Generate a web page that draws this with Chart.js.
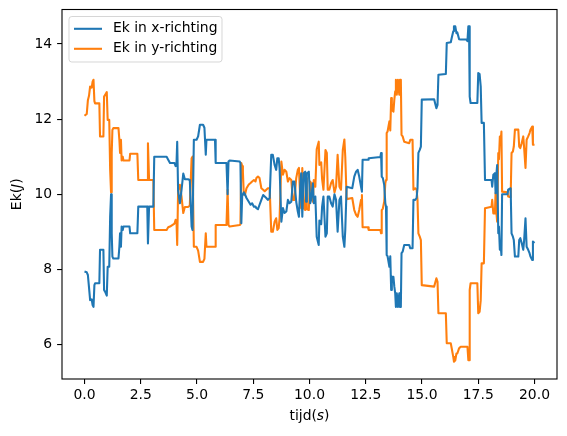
<!DOCTYPE html>
<html>
<head>
<meta charset="utf-8">
<script src="https://cdn.jsdelivr.net/npm/chart.js@4.4.0/dist/chart.umd.min.js"></script>
<style>
html,body{margin:0;padding:0;background:#fff;}
canvas{display:block;}
</style>
</head>
<body>
<canvas id="c" width="567" height="436"></canvas>
<script>
// ---- data ----
const tijd = [0.00,0.10,0.15,0.20,0.25,0.32,0.36,0.40,0.44,0.47,0.66,0.69,0.84,0.87,0.92,0.99,1.03,1.10,1.14,1.18,1.21,1.24,1.28,1.51,1.55,1.58,1.62,1.65,1.70,1.73,2.00,2.03,2.35,2.39,2.79,2.82,2.87,3.06,3.10,3.65,3.72,3.80,4.00,4.05,4.09,4.12,4.16,4.24,4.31,4.39,4.46,4.60,4.68,4.76,4.80,4.86,4.98,5.05,5.13,5.27,5.33,5.39,5.42,5.80,5.83,6.31,6.36,6.40,6.45,6.90,6.93,6.97,7.01,7.04,7.08,7.13,7.20,7.30,7.38,7.45,7.53,7.60,7.64,7.71,7.78,7.86,7.94,8.01,8.08,8.15,8.23,8.30,8.37,8.45,8.52,8.57,8.63,8.67,8.75,8.82,8.89,8.97,9.04,9.11,9.19,9.26,9.33,9.41,9.48,9.53,9.59,9.63,9.68,9.74,9.81,9.85,9.88,9.97,10.03,10.07,10.15,10.19,10.26,10.32,10.41,10.44,10.52,10.56,10.62,10.71,10.77,10.81,10.88,10.96,11.03,11.11,11.18,11.25,11.33,11.40,11.48,11.55,11.59,11.65,11.90,11.99,12.07,12.14,12.21,12.29,12.33,12.36,12.60,12.63,13.15,13.18,13.21,13.26,13.32,13.37,13.40,13.43,13.47,13.55,13.59,13.63,13.66,13.73,13.77,13.81,13.84,13.88,13.93,13.99,14.02,14.06,14.09,14.14,14.21,14.43,14.48,14.58,14.62,14.70,14.76,14.80,14.84,14.90,14.95,14.99,15.54,15.58,15.64,15.69,15.73,16.06,16.10,16.28,16.32,16.39,16.42,16.48,16.53,16.57,16.65,16.72,16.97,17.02,17.06,17.09,17.12,17.16,17.46,17.50,17.56,17.61,17.65,17.75,17.80,18.09,18.12,18.17,18.24,18.27,18.31,18.34,18.39,18.42,18.46,18.49,18.53,18.56,18.80,18.83,18.94,18.98,19.04,19.08,19.13,19.28,19.32,19.37,19.43,19.50,19.54,19.60,19.65,19.72,19.78,19.82,19.90,19.93,20.00];

const ekX = [7.94,7.92,7.85,7.52,7.18,7.20,7.05,7.00,7.58,7.63,7.63,8.52,8.52,7.45,7.40,7.30,8.07,8.07,9.40,10.00,8.96,8.34,8.29,8.29,8.60,8.96,8.60,9.14,9.05,9.14,9.14,8.96,8.96,9.67,9.67,8.69,9.67,9.67,11.00,11.00,10.92,10.83,10.83,10.75,10.83,11.40,10.10,9.76,10.10,10.55,10.40,10.40,10.38,9.14,9.05,11.45,11.45,11.54,11.85,11.85,11.77,11.05,11.45,11.45,10.83,10.83,10.00,10.87,10.90,10.87,10.83,9.23,9.98,10.00,10.05,10.00,9.90,9.80,9.72,9.76,9.67,9.67,9.63,9.60,9.72,9.85,9.98,9.94,9.90,9.85,9.90,11.05,11.05,10.78,10.65,10.96,10.96,10.70,9.27,9.63,9.50,9.54,9.85,9.76,9.80,10.34,10.34,9.80,9.54,9.40,10.25,10.56,9.40,10.56,10.60,9.80,10.56,10.60,9.76,9.85,10.29,9.76,9.94,8.87,8.65,9.30,9.20,9.67,9.94,8.87,8.96,9.94,9.94,9.76,9.67,10.00,9.85,9.00,9.85,9.94,8.87,8.60,9.05,10.20,10.16,10.47,10.60,10.65,10.47,10.20,10.07,10.92,10.92,10.96,10.99,11.10,10.47,10.43,10.25,9.76,9.67,8.38,8.35,8.07,8.35,7.45,7.80,7.80,7.54,7.36,7.00,7.36,7.00,7.36,7.00,7.00,8.43,8.47,8.65,8.65,8.56,8.56,9.85,9.85,9.90,10.16,11.10,11.18,11.27,12.52,12.53,12.43,12.29,12.38,13.18,13.20,14.03,14.05,14.16,14.34,14.47,14.47,14.29,14.31,14.13,14.12,14.12,14.08,14.47,14.47,12.60,12.43,12.43,13.23,13.20,12.87,11.90,11.90,10.38,10.38,10.20,10.52,10.56,10.03,10.56,10.78,8.96,9.14,8.52,8.70,8.38,10.00,10.00,10.12,10.16,8.96,8.87,8.78,8.34,8.34,8.78,8.83,8.70,8.52,8.78,9.36,8.60,8.52,8.43,8.34,8.25,8.74,8.70];

const ekY = [12.09,12.14,12.50,12.62,12.87,12.84,13.00,13.05,12.48,12.42,12.42,11.54,11.54,12.60,12.65,12.72,11.98,11.98,10.65,10.05,11.10,11.71,11.76,11.76,11.45,11.10,11.45,10.90,11.00,10.90,10.90,11.08,11.08,10.38,10.38,11.36,10.38,10.38,9.05,9.05,9.12,9.14,9.22,9.32,9.25,8.65,10.10,10.25,9.95,9.50,9.66,9.66,9.70,10.96,11.00,8.60,8.60,8.50,8.20,8.20,8.28,8.96,8.60,8.60,9.18,9.18,10.12,9.18,9.14,9.18,9.20,10.83,10.75,10.60,10.00,9.98,10.16,10.26,10.30,10.34,10.38,10.34,10.43,10.47,10.43,10.16,10.12,10.08,10.12,10.16,10.16,9.00,9.00,9.27,9.36,9.05,9.10,9.36,10.87,10.52,10.65,10.60,10.34,10.43,10.38,9.85,9.85,10.43,10.65,10.70,9.85,9.63,10.70,9.63,9.58,10.43,9.60,9.58,10.34,10.30,9.80,10.38,10.20,11.20,11.40,10.78,10.85,10.40,10.12,11.18,11.10,10.12,10.12,10.30,10.38,10.05,10.20,11.05,10.20,10.12,11.18,11.46,11.00,9.87,9.90,9.58,9.45,9.40,9.58,9.85,9.98,9.12,9.12,9.05,9.05,8.96,9.58,9.62,9.80,10.29,10.38,11.63,11.67,11.94,11.70,12.56,12.25,12.20,12.52,12.74,13.05,12.65,13.05,12.65,13.05,13.05,11.58,11.54,11.40,11.36,11.45,11.45,10.12,10.16,10.12,9.85,8.96,8.87,8.78,7.58,7.54,7.63,7.76,7.67,6.83,6.83,6.03,6.03,5.90,5.67,5.54,5.58,5.76,5.76,5.90,5.94,5.94,5.94,5.58,5.58,7.45,7.63,7.63,6.83,6.87,7.18,8.16,8.16,9.63,9.67,9.85,9.49,9.49,10.03,9.49,9.27,11.10,10.93,11.54,11.36,11.67,10.07,10.05,9.94,9.92,11.10,11.14,11.27,11.72,11.72,11.27,11.23,11.36,11.54,11.23,10.70,11.45,11.54,11.63,11.72,11.80,11.32,11.32];

const xTicks = [0, 2.5, 5, 7.5, 10, 12.5, 15, 17.5, 20];
const yTicks = [6, 8, 10, 12, 14];
const seriesLabels = ['Ek in x-richting', 'Ek in y-richting'];
const xTitle = [['tijd(', false], ['s', true], [')', false]];
const yTitle = [['Ek(', false], ['J', true], [')', false]];

// ---- chart ----
const FONT = "'DejaVu Sans', 'Liberation Sans', sans-serif";
const FS = 13.9;
const BLUE = '#1f77b4', ORANGE = '#ff7f0e';

function pts(vals){ return tijd.map((t,i)=>({x:t, y:vals[i]})); }

function drawMixed(ctx, parts, cx, cy, rot){
  ctx.save();
  ctx.translate(cx, cy);
  ctx.rotate(rot);
  ctx.fillStyle = '#000';
  ctx.textBaseline = 'middle';
  ctx.textAlign = 'left';
  let total = 0;
  const ws = parts.map(([s, it]) => { ctx.font = (it ? 'italic ' : '') + FS + 'px ' + FONT; const w = ctx.measureText(s).width; total += w; return w; });
  let x = -total/2;
  parts.forEach(([s, it], i) => { ctx.font = (it ? 'italic ' : '') + FS + 'px ' + FONT; ctx.fillText(s, x, 0); x += ws[i]; });
  ctx.restore();
}

const decor = {
  id: 'decor',
  afterDatasetsDraw(chart){
    const ctx = chart.ctx, a = chart.chartArea;
    // frame
    ctx.save();
    ctx.strokeStyle = '#000';
    ctx.lineWidth = 1.1;
    ctx.strokeRect(a.left, a.top, a.right - a.left, a.bottom - a.top);
    ctx.restore();
    // legend
    const bx = a.left + 7, by = a.top + 7, bw = 153, bh = 45.5, r = 2.8;
    ctx.save();
    ctx.beginPath();
    ctx.moveTo(bx + r, by);
    ctx.lineTo(bx + bw - r, by); ctx.quadraticCurveTo(bx + bw, by, bx + bw, by + r);
    ctx.lineTo(bx + bw, by + bh - r); ctx.quadraticCurveTo(bx + bw, by + bh, bx + bw - r, by + bh);
    ctx.lineTo(bx + r, by + bh); ctx.quadraticCurveTo(bx, by + bh, bx, by + bh - r);
    ctx.lineTo(bx, by + r); ctx.quadraticCurveTo(bx, by, bx + r, by);
    ctx.closePath();
    ctx.fillStyle = 'rgba(255,255,255,0.8)';
    ctx.fill();
    ctx.strokeStyle = 'rgba(204,204,204,0.8)';
    ctx.lineWidth = 1;
    ctx.stroke();
    chart.data.datasets.forEach((ds, i) => {
      const yy = by + 12.3 + i * 20;
      ctx.beginPath();
      ctx.strokeStyle = ds.borderColor;
      ctx.lineWidth = 2.08;
      ctx.moveTo(bx + 5, yy); ctx.lineTo(bx + 33, yy);
      ctx.stroke();
      ctx.fillStyle = '#000';
      ctx.font = FS + 'px ' + FONT;
      ctx.textBaseline = 'middle';
      ctx.textAlign = 'left';
      ctx.fillText(ds.label, bx + 44, yy);
    });
    ctx.restore();
  },
  afterDraw(chart){
    const ctx = chart.ctx, a = chart.chartArea;
    drawMixed(ctx, xTitle, (a.left + a.right)/2, 416.5, 0);
    drawMixed(ctx, yTitle, 17.5, (a.top + a.bottom)/2, -Math.PI/2);
  }
};

new Chart(document.getElementById('c'), {
  type: 'line',
  data: {
    datasets: [
      { label: seriesLabels[0], data: pts(ekX), borderColor: BLUE, backgroundColor: BLUE, borderWidth: 2.08, pointRadius: 0, tension: 0, fill: false, borderJoinStyle: 'round', borderCapStyle: 'butt' },
      { label: seriesLabels[1], data: pts(ekY), borderColor: ORANGE, backgroundColor: ORANGE, borderWidth: 2.08, pointRadius: 0, tension: 0, fill: false, borderJoinStyle: 'round', borderCapStyle: 'butt' }
    ]
  },
  options: {
    responsive: false,
    animation: false,
    devicePixelRatio: 1,
    layout: { padding: { top: 9.5, right: 10, left: 0, bottom: 0 } },
    plugins: { legend: { display: false }, tooltip: { enabled: false } },
    events: [],
    scales: {
      x: {
        type: 'linear', min: -1, max: 21,
        afterBuildTicks: s => { s.ticks = xTicks.map(v => ({ value: v })); },
        afterFit: s => { s.height = 57; s.paddingLeft = 0; s.paddingRight = 0; s.paddingTop = 0; s.paddingBottom = 0; },
        ticks: { callback: v => Number(v).toFixed(1), color: '#000', font: { family: FONT, size: FS }, padding: 3, maxRotation: 0, autoSkip: false },
        grid: { display: true, drawOnChartArea: false, drawTicks: true, tickLength: 4.9, color: '#000', lineWidth: 1.1 },
        border: { display: false }
      },
      y: {
        type: 'linear', min: 5.08, max: 14.92,
        afterBuildTicks: s => { s.ticks = yTicks.map(v => ({ value: v })); },
        afterFit: s => { s.width = 62; s.paddingLeft = 0; s.paddingRight = 0; s.paddingTop = 0; s.paddingBottom = 0; },
        ticks: { callback: v => String(v), color: '#000', font: { family: FONT, size: FS }, padding: 5, autoSkip: false },
        grid: { display: true, drawOnChartArea: false, drawTicks: true, tickLength: 4.9, color: '#000', lineWidth: 1.1 },
        border: { display: false }
      }
    }
  },
  plugins: [decor]
});
</script>
</body>
</html>
